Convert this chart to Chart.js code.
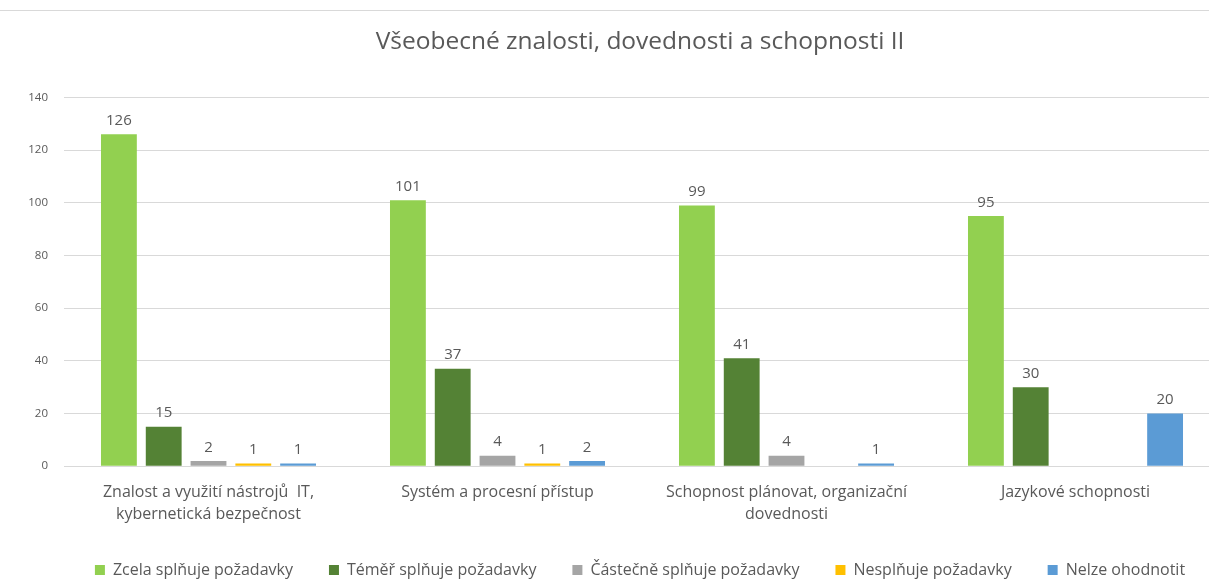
<!DOCTYPE html>
<html><head><meta charset="utf-8">
<script src="https://cdn.jsdelivr.net/npm/chart.js@4.4.1/dist/chart.umd.min.js"></script>
<style>
html,body{margin:0;padding:0;background:#fff;overflow:hidden;width:1209px;height:579px;}
#wrap{position:absolute;left:0;top:0;width:1280px;height:579px;}
</style></head>
<body>
<div id="wrap"><canvas id="c" width="1280" height="579"></canvas></div>
<script>
const categories = [
  ["Znalost a využití nástrojů  IT,", "kybernetická bezpečnost"],
  ["Systém a procesní přístup"],
  ["Schopnost plánovat, organizační", "dovednosti"],
  ["Jazykové schopnosti"]
];
const seriesNames = ["Zcela splňuje požadavky", "Téměř splňuje požadavky", "Částečně splňuje požadavky", "Nesplňuje požadavky", "Nelze ohodnotit"];
const zcela = [126, 101, 99, 95];
const temer = [15, 37, 41, 30];
const castecne = [2, 4, 4, null];
const nesplnuje = [1, 1, null, null];
const nelze = [1, 2, 1, 20];
const yTicks = [0, 20, 40, 60, 80, 100, 120, 140];
const colors = ["#92D050", "#548235", "#A5A5A5", "#FFC000", "#5B9BD5"];
const values = [zcela, temer, castecne, nesplnuje, nelze];

const FONT = "'Open Sans', 'Noto Sans', sans-serif";
const TXT = "#595959";

const labelPlugin = {
  id: 'vals',
  afterDatasetsDraw(chart) {
    const ctx = chart.ctx;
    ctx.save();
    ctx.font = "15px " + FONT;
    ctx.fillStyle = TXT;
    ctx.textAlign = 'center';
    ctx.textBaseline = 'bottom';
    chart.data.datasets.forEach((ds, i) => {
      const meta = chart.getDatasetMeta(i);
      meta.data.forEach((bar, j) => {
        const v = ds.data[j];
        if (v === null || v === undefined) return;
        ctx.fillText(String(v), bar.x, bar.y - 6);
      });
    });
    ctx.restore();
  }
};
const topLine = {
  id: 'topline',
  beforeDraw(chart) {
    const ctx = chart.ctx;
    ctx.save();
    ctx.strokeStyle = '#D9D9D9';
    ctx.lineWidth = 1;
    ctx.beginPath();
    ctx.moveTo(0, 10.5); ctx.lineTo(chart.width, 10.5);
    ctx.stroke();
    ctx.restore();
  }
};

new Chart(document.getElementById('c'), {
  type: 'bar',
  data: {
    labels: categories,
    datasets: seriesNames.map((n, i) => ({
      label: n,
      data: values[i],
      backgroundColor: colors[i],
      borderWidth: 0,
      barPercentage: 0.8,
      categoryPercentage: 0.775
    }))
  },
  options: {
    responsive: false,
    animation: false,
    layout: { padding: { top: 0, left: 0, right: 0, bottom: -9 } },
    plugins: {
      title: {
        display: true,
        text: "Všeobecné znalosti, dovednosti a schopnosti II",
        color: TXT,
        font: { family: FONT, size: 24.5, weight: 'normal' },
        padding: { top: 27, bottom: 41 }
      },
      legend: {
        position: 'bottom',
        labels: {
          color: TXT,
          font: { family: FONT, size: 16 },
          boxWidth: 10, boxHeight: 10,
          padding: 36
        }
      },
      tooltip: { enabled: false }
    },
    scales: {
      x: {
        afterFit(axis) { axis.height -= 15; },
        grid: { display: false, drawTicks: false },
        border: { display: false },
        ticks: { color: TXT, font: { family: FONT, size: 16, lineHeight: 1.4 }, padding: 15, maxRotation: 0, autoSkip: false }
      },
      y: {
        min: 0, max: 140,
        afterBuildTicks(axis) { axis.ticks = yTicks.map(v => ({ value: v })); },
        afterFit(axis) { axis.width = 64; },
        grid: { color: '#D9D9D9', drawTicks: false },
        border: { display: false },
        ticks: { color: TXT, font: { family: FONT, size: 11.5 }, padding: 16 }
      },
      yr: {
        position: 'right',
        min: 0, max: 140,
        afterFit(axis) { axis.width = 60; },
        grid: { display: false, drawTicks: false },
        border: { display: false },
        ticks: { display: false }
      }
    }
  },
  plugins: [labelPlugin, topLine]
});
</script>
</body></html>
